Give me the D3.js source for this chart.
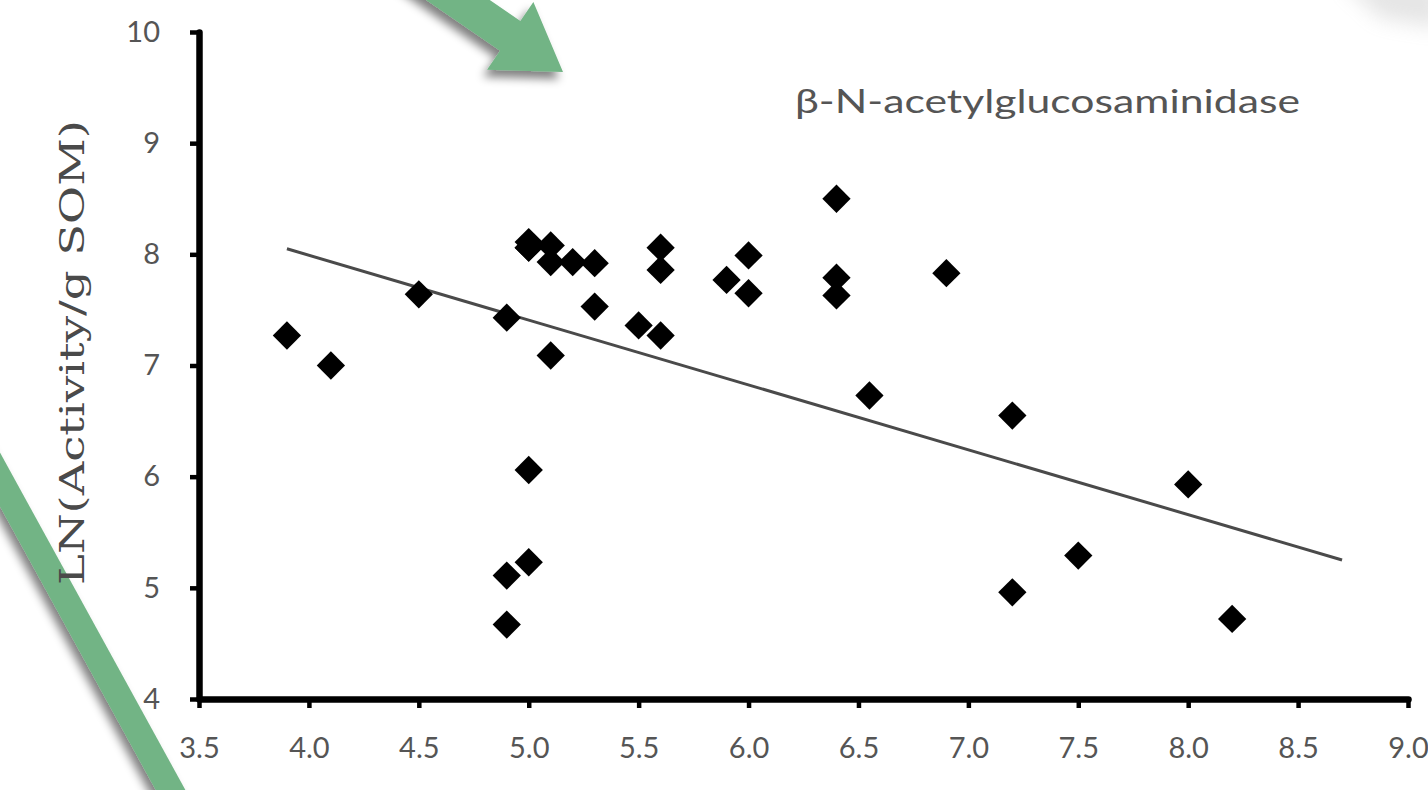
<!DOCTYPE html>
<html>
<head>
<meta charset="utf-8">
<script src="https://cdn.jsdelivr.net/npm/d3@7"></script>
<style>
  html, body { margin: 0; padding: 0; background: #fff; }
  svg { display: block; }
</style>
</head>
<body>
<svg id="chart" width="1428" height="790"></svg>
<script>
// Soil pH vs. log enzyme activity per gram soil organic matter
const phValues = [3.9, 4.1, 4.5, 4.9, 4.9, 4.9, 5.0, 5.0, 5.0, 5.0, 5.0, 5.1, 5.1, 5.1, 5.2, 5.3, 5.3,
                  5.5, 5.6, 5.6, 5.6, 5.9, 6.0, 6.0, 6.4, 6.4, 6.4, 6.55, 6.9, 7.2, 7.2, 7.5, 8.0, 8.2];
const lnActivity = [7.27, 7.0, 7.64, 7.43, 5.11, 4.67, 8.11, 8.06, 6.06, 5.23, 8.06, 8.08, 7.93, 7.09, 7.93, 7.92, 7.53,
                    7.36, 8.06, 7.86, 7.27, 7.77, 7.99, 7.65, 8.50, 7.79, 7.63, 6.73, 7.83, 6.55, 4.96, 5.29, 5.93, 4.72];

// Fitted trend line: start / end pH and its fitted values
const trendX = [3.9, 8.7];
const trendY = [8.05, 5.25];

const xTicks = [3.5, 4.0, 4.5, 5.0, 5.5, 6.0, 6.5, 7.0, 7.5, 8.0, 8.5, 9.0];
const yTicks = [4, 5, 6, 7, 8, 9, 10];

const enzymeName = "β-N-acetylglucosaminidase";
const yTitle = "LN(Activity/g SOM)";

const svg = d3.select("#chart");

const x = d3.scaleLinear().domain([3.5, 9]).range([199, 1408]);
const y = d3.scaleLinear().domain([4, 10]).range([699, 32]);

// ---- decorative slide arrows ----
const defs = svg.append("defs");
const shadow = defs.append("filter").attr("id", "shadow")
  .attr("x", "-50%").attr("y", "-50%").attr("width", "200%").attr("height", "200%");
shadow.append("feGaussianBlur").attr("in", "SourceAlpha").attr("stdDeviation", 5).attr("result", "b");
shadow.append("feOffset").attr("in", "b").attr("dx", -4).attr("dy", 7).attr("result", "o");
shadow.append("feComponentTransfer").attr("in", "o").attr("result", "s")
  .append("feFuncA").attr("type", "linear").attr("slope", 0.5);
const merge = shadow.append("feMerge");
merge.append("feMergeNode").attr("in", "s");
merge.append("feMergeNode").attr("in", "SourceGraphic");

const soft = defs.append("filter").attr("id", "soft")
  .attr("x", "-50%").attr("y", "-50%").attr("width", "200%").attr("height", "200%");
soft.append("feGaussianBlur").attr("stdDeviation", 10);

const green = "#72b485";

// arrow pointing down-right toward the plot title
function arrowPath(sx, sy, tx, ty, headLen, headHalf, shaftHalf) {
  const dx = tx - sx, dy = ty - sy, len = Math.hypot(dx, dy);
  const ux = dx / len, uy = dy / len, nx = -uy, ny = ux;
  const bx = tx - headLen * ux, by = ty - headLen * uy;
  const pts = [
    [sx + shaftHalf * nx, sy + shaftHalf * ny],
    [bx + shaftHalf * nx, by + shaftHalf * ny],
    [bx + headHalf * nx, by + headHalf * ny],
    [tx, ty],
    [bx - headHalf * nx, by - headHalf * ny],
    [bx - shaftHalf * nx, by - shaftHalf * ny],
    [sx - shaftHalf * nx, sy - shaftHalf * ny]
  ];
  return "M" + pts.map(p => p.join(",")).join("L") + "Z";
}

// faint shadow in the top-right corner
svg.append("path")
  .attr("d", "M1340,-20 L1440,-20 L1440,28 L1380,18 Z")
  .attr("fill", "#999").attr("opacity", 0.25).attr("filter", "url(#soft)");

svg.append("path")
  .attr("d", arrowPath(385, -50, 563, 72, 64, 41, 18))
  .attr("fill", green)
  .attr("filter", "url(#shadow)");

svg.append("line")
  .attr("x1", -30).attr("y1", 425).attr("x2", 192).attr("y2", 829)
  .attr("stroke", green).attr("stroke-width", 26)
  .attr("filter", "url(#shadow)");

// ---- axes ----
const xAxis = d3.axisBottom(x)
  .tickValues(xTicks)
  .tickFormat(d3.format(".1f"))
  .tickSizeInner(9).tickSizeOuter(0).tickPadding(29);

const yAxis = d3.axisLeft(y)
  .tickValues(yTicks)
  .tickFormat(d3.format("d"))
  .tickSizeInner(9).tickSizeOuter(0).tickPadding(30);

function styleAxis(g) {
  g.attr("font-size", 29).attr("font-family", "Lato, 'Open Sans', sans-serif");
  g.select(".domain")
    .attr("stroke", "#000").attr("stroke-width", 6.5).attr("stroke-linecap", "round");
  g.selectAll(".tick line").attr("stroke", "#000").attr("stroke-width", 4.5);
  g.selectAll(".tick text").attr("fill", "#555");
}

svg.append("g")
  .attr("transform", `translate(0,${y(4)})`)
  .call(xAxis).call(styleAxis);
svg.append("g")
  .attr("transform", `translate(${x(3.5)},0)`)
  .call(yAxis).call(styleAxis);

// ---- trend line ----
svg.append("line")
  .attr("x1", x(trendX[0])).attr("y1", y(trendY[0]))
  .attr("x2", x(trendX[1])).attr("y2", y(trendY[1]))
  .attr("stroke", "#4a4a4a").attr("stroke-width", 3);

// ---- points (diamonds) ----
const diamond = d3.symbol().type(d3.symbolSquare).size(400);
svg.append("g").selectAll("path")
  .data(phValues.map((v, i) => [v, lnActivity[i]]))
  .join("path")
  .attr("d", diamond)
  .attr("transform", d => `translate(${x(d[0])},${y(d[1])}) rotate(45)`)
  .attr("fill", "#000");

// ---- labels ----
svg.append("text")
  .attr("x", 795).attr("y", 113)
  .attr("textLength", 505).attr("lengthAdjust", "spacingAndGlyphs")
  .attr("fill", "#555")
  .attr("font-family", "Lato, 'Open Sans', sans-serif")
  .attr("font-size", 32)
  .text(enzymeName);

svg.append("text")
  .attr("transform", "translate(84,585) rotate(-90)")
  .attr("textLength", 465).attr("lengthAdjust", "spacingAndGlyphs")
  .attr("fill", "#4a4a4a")
  .attr("font-family", "'DejaVu Serif', serif")
  .attr("font-size", 34)
  .text(yTitle);
</script>
</body>
</html>
